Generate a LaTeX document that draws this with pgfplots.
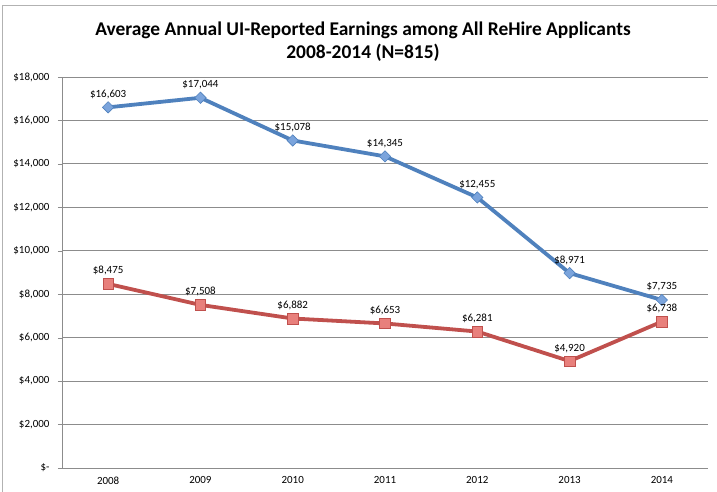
\documentclass[border=0pt]{standalone}
\usepackage{pgfplots}
\pgfplotsset{compat=1.18}
\usepackage{fontspec}
\setmainfont{Carlito}
\definecolor{blueline}{HTML}{4F81BD}
\definecolor{bluefill}{HTML}{7BA4DC}
\definecolor{redline}{HTML}{C0504D}
\definecolor{redfill}{HTML}{E8807C}
\definecolor{gridc}{HTML}{8C8C8C}
\begin{document}
\begin{tikzpicture}[x=1bp,y=1bp]
\useasboundingbox (-62,-24) rectangle (655,468);
\draw[gray!60, line width=1bp] (-59,-30) -- (-59,462) -- (660,462);
\begin{axis}[
  at={(0,0)}, anchor=south west,
  scale only axis, width=646bp, height=391bp,
  xmin=-0.5, xmax=6.5, ymin=0, ymax=18000,
  axis lines=left, axis line style={gridc, -},
  scaled y ticks=false,
  xtick={0,...,6},
  xticklabels={2008,2009,2010,2011,2012,2013,2014},
  xtick style={draw=none},
  extra x ticks={-0.5,0.5,1.5,2.5,3.5,4.5,5.5,6.5},
  extra x tick labels={},
  extra x tick style={grid=none, tick style={draw=gridc}, tick align=outside, major tick length=4bp},
  ytick={0,2000,...,18000},
  yticklabels={{\$-},{\$2,000},{\$4,000},{\$6,000},{\$8,000},{\$10,000},{\$12,000},{\$14,000},{\$16,000},{\$18,000}},
  ymajorgrids, grid style={gridc, line width=0.8bp},
  ytick style={draw=gridc}, tick align=outside, major tick length=4bp,
  tick label style={font=\fontsize{11}{13}\selectfont},
  xticklabel style={yshift=-1bp},
  yticklabel style={xshift=-5bp},
  clip=false,
  nodes near coords={\$\pgfmathprintnumber{\pgfplotspointmeta}},
  nodes near coords style={font=\fontsize{11}{13}\selectfont, black, anchor=south, yshift=5bp,
     /pgf/number format/.cd, fixed, precision=0, 1000 sep={,}},
  /pgf/number format/assume math mode=true,
  title style={font=\bfseries\fontsize{19.5}{23}\selectfont, align=center, yshift=6bp, xshift=-22bp},
  title={Average Annual UI-Reported Earnings among All ReHire Applicants\\2008-2014 (N=815)},
]
\addplot[blueline, line width=3.8bp, mark=square*, mark size=4bp,
  mark options={fill=bluefill, draw=blueline, line width=0.6bp, rotate=45}]
  coordinates {(0,16603) (1,17044) (2,15078) (3,14345) (4,12455) (5,8971) (6,7735)};
\addplot[redline, line width=3.8bp, mark=square*, mark size=5.3bp,
  mark options={fill=redfill, draw=redline, line width=0.6bp}]
  coordinates {(0,8475) (1,7508) (2,6882) (3,6653) (4,6281) (5,4920) (6,6738)};
\end{axis}
\end{tikzpicture}
\end{document}
